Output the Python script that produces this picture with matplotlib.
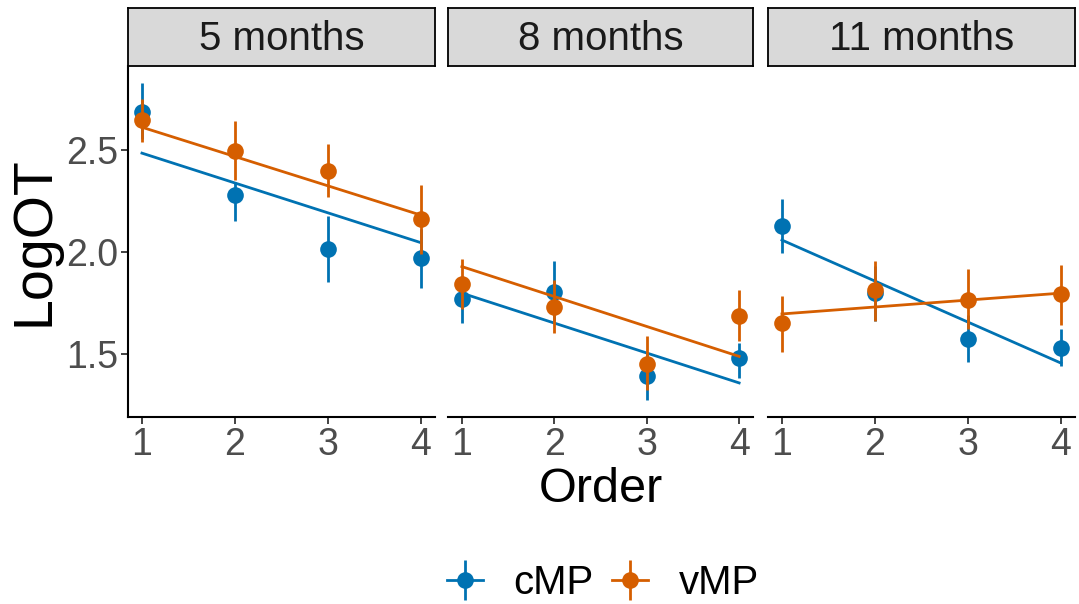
import matplotlib.pyplot as plt
from matplotlib.lines import Line2D
from matplotlib.legend_handler import HandlerTuple

plt.rcParams['font.family'] = ['Liberation Sans', 'DejaVu Sans']

# Data
ages = ['5 months', '8 months', '11 months']
order = [1, 2, 3, 4]

cmp_mean = [[2.684, 2.277, 2.013, 1.967],
            [1.767, 1.804, 1.389, 1.479],
            [2.127, 1.797, 1.572, 1.526]]
cmp_low = [[2.55, 2.151, 1.853, 1.821],
           [1.65, 1.66, 1.275, 1.381],
           [1.995, 1.66, 1.458, 1.438]]
cmp_high = [[2.825, 2.342, 2.174, 2.11],
            [1.88, 1.954, 1.50, 1.552],
            [2.256, 1.93, 1.69, 1.621]]

vmp_mean = [[2.643, 2.493, 2.395, 2.158],
            [1.840, 1.731, 1.451, 1.687],
            [1.650, 1.813, 1.764, 1.792]]
vmp_low = [[2.537, 2.35, 2.268, 1.99],
           [1.72, 1.604, 1.32, 1.56],
           [1.508, 1.658, 1.62, 1.642]]
vmp_high = [[2.749, 2.640, 2.529, 2.326],
            [1.964, 1.86, 1.588, 1.813],
            [1.783, 1.954, 1.914, 1.935]]

# model fit lines, value at order 1 and order 4
cmp_fit = [[2.483, 2.044], [1.797, 1.357], [2.057, 1.454]]
vmp_fit = [[2.610, 2.179], [1.927, 1.487], [1.695, 1.797]]

groups = ['cMP', 'vMP']
colors = ['#0072B2', '#D55E00']

fig = plt.figure(figsize=(10.79, 6.04), dpi=100)
W, H = 1079, 604
panel_x = [(128, 435), (448, 753), (768, 1075)]
top, bottom = 66, 417

for i, age in enumerate(ages):
    x0, x1 = panel_x[i]
    ax = fig.add_axes([x0 / W, 1 - bottom / H, (x1 - x0) / W, (bottom - top) / H])
    for mean, low, high, fit, c in [(cmp_mean, cmp_low, cmp_high, cmp_fit, colors[0]),
                                    (vmp_mean, vmp_low, vmp_high, vmp_fit, colors[1])]:
        ax.plot([order[0], order[-1]], fit[i], color=c, lw=2)
        ax.vlines(order, low[i], high[i], color=c, lw=2)
        ax.plot(order, mean[i], 'o', color=c, ms=12, mec='none')
    ax.set_xlim(0.85, 4.15)
    ax.set_ylim(1.19, 2.91)
    ax.set_xticks(order)
    ax.set_yticks([1.5, 2.0, 2.5])
    ax.tick_params(labelsize=27, colors='#333333', labelcolor='#4D4D4D', length=5, width=1.3, pad=2)
    for s in ['top', 'right']:
        ax.spines[s].set_visible(False)
    ax.spines['bottom'].set_linewidth(1.5)
    ax.spines['left'].set_linewidth(1.5)
    if i == 0:
        ax.set_ylabel('LogOT', fontsize=40, labelpad=4)
    else:
        ax.spines['left'].set_visible(False)
        ax.tick_params(axis='y', left=False, labelleft=False)

    # facet strip
    sax = fig.add_axes([x0 / W, 1 - top / H, (x1 - x0) / W, 58 / H])
    sax.set_facecolor('#D9D9D9')
    sax.set_xticks([])
    sax.set_yticks([])
    for s in sax.spines.values():
        s.set_linewidth(1.3)
    sax.text(0.5, 0.47, age, ha='center', va='center', fontsize=29, color='#1A1A1A',
             transform=sax.transAxes)

fig.text(601 / W, 1 - 490 / H, 'Order', ha='center', va='center', fontsize=35)

handles = []
for c in colors:
    handles.append((Line2D([], [], color=c, lw=2),
                    Line2D([], [], color=c, marker='|', ms=29, mew=2, ls='none'),
                    Line2D([], [], color=c, marker='o', ms=12, mec='none', ls='none')))
fig.legend(handles, groups, loc='center', bbox_to_anchor=(603 / W, 1 - 583 / H),
           ncol=2, frameon=False, fontsize=29,
           handler_map={tuple: HandlerTuple(ndivide=1, pad=0)},
           handlelength=0.9, columnspacing=0.45, handletextpad=0.75)

fig.savefig('out.png', dpi=100)
